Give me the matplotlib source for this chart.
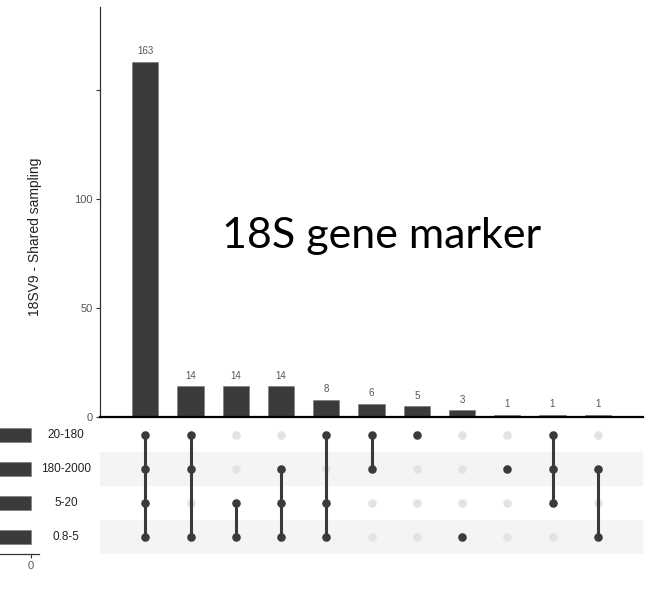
import matplotlib
matplotlib.use("Agg")
import matplotlib.pyplot as plt
import matplotlib.transforms as mtransforms
import numpy as np

plt.rcParams['font.family'] = ['Liberation Sans', 'DejaVu Sans']

# ---- data ----
sets = ["20-180", "180-2000", "5-20", "0.8-5"]          # top to bottom
intersection_sizes = [163, 14, 14, 14, 8, 6, 5, 3, 1, 1, 1]
intersection_members = [
    ["20-180", "180-2000", "5-20", "0.8-5"],
    ["20-180", "180-2000", "0.8-5"],
    ["5-20", "0.8-5"],
    ["180-2000", "5-20", "0.8-5"],
    ["20-180", "5-20", "0.8-5"],
    ["20-180", "180-2000"],
    ["20-180"],
    ["0.8-5"],
    ["180-2000"],
    ["20-180", "180-2000", "5-20"],
    ["180-2000", "0.8-5"],
]
set_sizes = [sum(s for s, m in zip(intersection_sizes, intersection_members) if name in m)
             for name in sets]
y_ticks = [0, 50, 100, 150]
y_ticklabels = ["0", "50", "100", ""]
y_label = "18SV9 - Shared sampling"
overlay_text = "18S gene marker"

W, H = 652, 598
fig = plt.figure(figsize=(W / 100, H / 100), dpi=100)

def fx(px):
    return px / W

def fy(py):
    return 1 - py / H

bar_col = "#3b3b3b"
dot_col = "#3a3a3a"
light_dot = "#e3e3e3"
band_col = "#f4f4f4"

n = len(intersection_sizes)
xs = np.arange(n)

# ---- intersection bar chart ----
ax_b = fig.add_axes([fx(100), fy(417), fx(643) - fx(100), fy(7) - fy(417)])
ax_b.bar(xs, intersection_sizes, width=0.58, color=bar_col, edgecolor="#777777", linewidth=0.4, zorder=2)
for x, v in zip(xs, intersection_sizes):
    ax_b.annotate(str(v), (x, v), xytext=(0, 4), textcoords="offset points",
                  ha="center", va="bottom", fontsize=7, color="#555555")
ax_b.set_xlim(-1, 11)
ax_b.set_ylim(0, 188)
ax_b.set_yticks(y_ticks)
ax_b.set_yticklabels(y_ticklabels)
ax_b.tick_params(axis="y", length=3, width=0.8, colors="#333333", labelcolor="#555555",
                 labelsize=8, pad=2)
ax_b.set_xticks([])
for s in ["top", "right"]:
    ax_b.spines[s].set_visible(False)
ax_b.spines["left"].set_color("#333333")
ax_b.spines["left"].set_linewidth(0.9)
ax_b.spines["bottom"].set_color("black")
ax_b.spines["bottom"].set_linewidth(1.6)
ax_b.set_ylabel(y_label, fontsize=10, color="#222222")
ax_b.yaxis.set_label_coords((42 - 100) / (643 - 100), (417 - 237) / (417 - 7))

# ---- matrix ----
ax_m = fig.add_axes([fx(100), fy(554), fx(643) - fx(100), fy(418) - fy(554)])
ax_m.set_xlim(-1, 11)
ax_m.set_ylim(len(sets) - 0.5, -0.5)
for i in range(len(sets)):
    if i % 2 == 1:
        ax_m.axhspan(i - 0.5, i + 0.5, color=band_col, zorder=0, lw=0)
for x, members in zip(xs, intersection_members):
    rows = [sets.index(m) for m in members]
    all_rows = np.arange(len(sets))
    off = [r for r in all_rows if r not in rows]
    ax_m.scatter([x] * len(off), off, s=38, color=light_dot, zorder=1, linewidths=0)
    if len(rows) > 1:
        ax_m.plot([x, x], [min(rows), max(rows)], color=dot_col, lw=2.2, zorder=2,
                  solid_capstyle="butt")
    ax_m.scatter([x] * len(rows), rows, s=38, color=dot_col, zorder=3, linewidths=0)
ax_m.axis("off")

# set names
trans = mtransforms.blended_transform_factory(fig.transFigure, ax_m.transData)
for i, name in enumerate(sets):
    fig.text(fx(66), i, name, transform=trans, ha="center", va="center",
             fontsize=8.5, color="#222222")

# ---- set size bars (cropped at left edge) ----
ax_s = fig.add_axes([0, fy(554), fx(39), fy(418) - fy(554)])
ax_s.barh(np.arange(len(sets)), set_sizes, height=0.42, color=bar_col,
          edgecolor="#777777", linewidth=0.4)
ax_s.set_ylim(len(sets) - 0.5, -0.5)
ax_s.set_xlim(25, -6.45)
ax_s.set_xticks([0])
ax_s.set_xticklabels(["0"])
ax_s.tick_params(axis="x", length=3, width=0.8, colors="#333333", labelcolor="#555555",
                 labelsize=8, pad=2)
ax_s.set_yticks([])
for s in ["top", "right", "left"]:
    ax_s.spines[s].set_visible(False)
ax_s.spines["bottom"].set_color("#333333")
ax_s.spines["bottom"].set_linewidth(0.9)

# ---- overlay text ----
fig.text(fx(382), fy(248), overlay_text, ha="center", va="baseline",
         fontsize=31, color="black", family=["Lato", "DejaVu Sans"])

fig.savefig("out.png", dpi=100)
